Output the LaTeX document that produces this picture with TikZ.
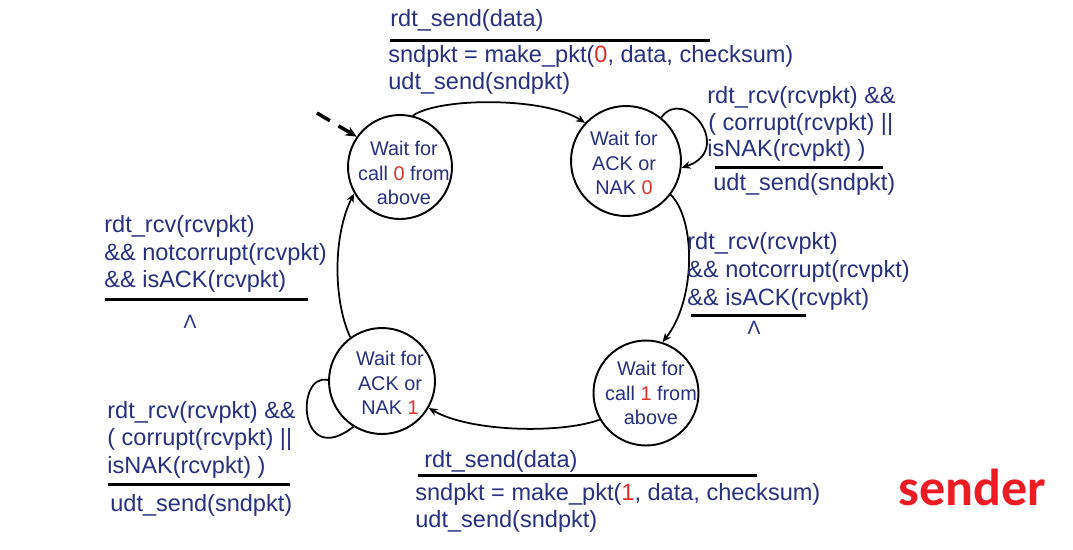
\documentclass[tikz,border=0pt]{standalone}
\usepackage{fontspec}
\setmainfont{Liberation Sans}
\newfontfamily\carlito{Carlito}
\usetikzlibrary{arrows.meta}
\definecolor{txtblue}{RGB}{40,48,128}
\definecolor{digred}{RGB}{226,48,40}
\definecolor{sendred}{RGB}{237,28,36}
\begin{document}
\begin{tikzpicture}[x=0.02cm,y=-0.02cm,
  lbl/.style={anchor=base west, inner sep=0pt, text=txtblue, font=\fontsize{13.4}{16}\selectfont},
  lam/.style={anchor=base, inner sep=0pt, text=txtblue, font=\fontsize{11}{13}\selectfont},
  state/.style={circle, draw=black, line width=1.1pt, inner sep=0pt},
  stext/.style={align=center, inner sep=0pt, text=txtblue, font=\fontsize{11.3}{13.9}\selectfont},
  trans/.style={draw=black, line width=1pt, -{Stealth[length=0.18cm,width=0.15cm]}},
  loopline/.style={draw=black, line width=1pt},
  sep/.style={line width=1.7pt},
  initarrow/.style={line width=2pt, dash pattern=on 0.3cm off 0.2cm, -{Stealth[length=0.22cm,width=0.2cm]}}]

\useasboundingbox[fill=white] (0,0) rectangle (1073,549);

% states
\node[state, minimum size=2.08cm] (s0) at (400,167) {};
\node[state, minimum size=2.2cm] (s1) at (626,161) {};
\node[state, minimum size=2.1cm] (s2) at (646,393) {};
\node[state, minimum size=2.12cm] (s3) at (382,381) {};
\node[stext] (s0t) at (404,173) {Wait for\\call \textcolor{digred}{0} from\\above};
\node[stext] (s1t) at (624,163) {Wait for\\ACK or\\NAK \textcolor{digred}{0}};
\node[stext] (s2t) at (651,393) {Wait for\\call \textcolor{digred}{1} from\\above};
\node[stext] (s3t) at (390,383) {Wait for\\ACK or\\NAK \textcolor{digred}{1}};

% transitions
\coordinate (init) at (317,113);
\draw[initarrow] (init) -- (s0.145);
\draw[trans] (s0.76) .. controls (440,97) and (545,97) .. (s1.137);
\draw[trans] (s1.-37) .. controls (696,220) and (696,300) .. (s2.72);
\draw[trans] (s2.210) .. controls (560,434) and (470,432) .. (s3.-30);
\draw[trans] (s3.126) .. controls (333,300) and (333,235) .. (s0.210);
\draw[trans] (s1.51) .. controls (685,85) and (735,150) .. (s1.-7);
\draw[loopline] (s3.179) .. controls (295,372) and (298,470) .. (s3.238);

% top label
\node[lbl] (t1) at (390,26) {rdt\_send(data)};
\draw[sep] (390,40) -- (710,40);
\node[lbl] (t2) at (388,62) {sndpkt = make\_pkt(\textcolor{digred}{0}, data, checksum)};
\node[lbl] (t3) at (388,89) {udt\_send(sndpkt)};

% right top label
\node[lbl] (r1) at (707,103) {rdt\_rcv(rcvpkt) \&\&};
\node[lbl] (r2) at (708,130) {( corrupt(rcvpkt) ||};
\node[lbl] (r3) at (707,156) {isNAK(rcvpkt) )};
\draw[sep] (715,167) -- (883,167);
\node[lbl] (r4) at (713,190) {udt\_send(sndpkt)};

% right middle label
\node[lbl] (m1) at (687,249) {rdt\_rcv(rcvpkt)};
\node[lbl] (m2) at (687,277) {\&\& notcorrupt(rcvpkt)};
\node[lbl] (m3) at (687,305) {\&\& isACK(rcvpkt)};
\draw[sep] (691,315) -- (806,315);
\node[lam] (m4) at (754,334) {Λ};

% left middle label
\node[lbl] (l1) at (104,232) {rdt\_rcv(rcvpkt)};
\node[lbl] (l2) at (104,260) {\&\& notcorrupt(rcvpkt)};
\node[lbl] (l3) at (104,287) {\&\& isACK(rcvpkt)};
\draw[sep] (105,299) -- (308,299);
\node[lam] (l4) at (190,328) {Λ};

% left bottom label
\node[lbl] (b1) at (107,418) {rdt\_rcv(rcvpkt) \&\&};
\node[lbl] (b2) at (107,445) {( corrupt(rcvpkt) ||};
\node[lbl] (b3) at (107,473) {isNAK(rcvpkt) )};
\draw[sep] (108,484) -- (290,484);
\node[lbl] (b4) at (110,511) {udt\_send(sndpkt)};

% bottom label
\node[lbl] (d1) at (424,467) {rdt\_send(data)};
\draw[sep] (418,475) -- (757,475);
\node[lbl] (d2) at (415,500) {sndpkt = make\_pkt(\textcolor{digred}{1}, data, checksum)};
\node[lbl] (d3) at (415,527) {udt\_send(sndpkt)};

% sender
\node[anchor=base west, inner sep=0pt, text=sendred, font=\carlito\bfseries\fontsize{29.6}{34}\selectfont] (snd) at (898,505) {sender};
\end{tikzpicture}
\end{document}
